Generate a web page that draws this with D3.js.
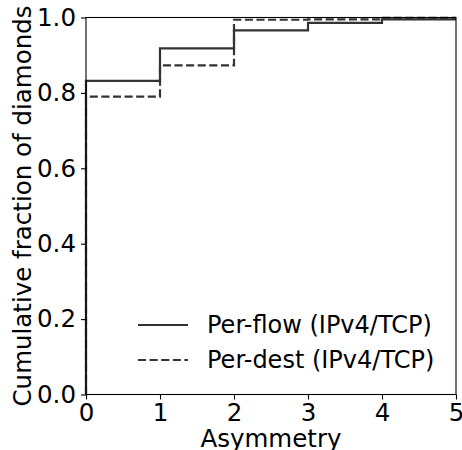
<!DOCTYPE html>
<html>
<head>
<meta charset="utf-8">
<script src="https://cdn.jsdelivr.net/npm/d3@7"></script>
<style>
  body { margin: 0; background: #fff; }
  svg { display: block; }
  text { font-family: "DejaVu Sans", sans-serif; fill: #000; }
</style>
</head>
<body>
<svg id="chart" width="462" height="450"></svg>
<script>
// Data (step "post": value holds from x until next x)
const asymmetry = [0, 0, 1, 2, 3, 4, 5];
const perFlow = [0, 0.832, 0.918, 0.966, 0.986, 0.995, 0.995];
const perDest = [0, 0.790, 0.873, 0.994, 0.995, 0.999, 0.999];
const seriesNames = ["Per-flow (IPv4/TCP)", "Per-dest (IPv4/TCP)"];
const xTicks = [0, 1, 2, 3, 4, 5];
const yTicks = [0.0, 0.2, 0.4, 0.6, 0.8, 1.0];

const svg = d3.select("#chart");
const m = { left: 86, right: 456, top: 17.5, bottom: 394.5 };
const x = d3.scaleLinear().domain([0, 5]).range([m.left, m.right]);
const y = d3.scaleLinear().domain([0, 1]).range([m.bottom, m.top]);
const fs = 24.5;
const legFs = 24;
const lineColor = "#333333";

const line = d3.line().x((d, i) => x(asymmetry[i])).y(d => y(d)).curve(d3.curveStepAfter);

const series = [
  { name: seriesNames[0], values: perFlow, dash: null },
  { name: seriesNames[1], values: perDest, dash: "8.1,3.5" }
];

series.forEach(s => {
  svg.append("path")
    .attr("d", line(s.values))
    .attr("fill", "none")
    .attr("stroke", lineColor)
    .attr("stroke-width", 2.2)
    .attr("stroke-dasharray", s.dash);
});

// spines
svg.append("rect")
  .attr("x", m.left).attr("y", m.top)
  .attr("width", m.right - m.left).attr("height", m.bottom - m.top)
  .attr("fill", "none").attr("stroke", "#000").attr("stroke-width", 1.1);

// axes
const xAxis = d3.axisBottom(x).tickValues(xTicks).tickFormat(d3.format("d")).tickSize(5).tickPadding(4);
const gx = svg.append("g").attr("transform", `translate(0,${m.bottom})`).call(xAxis);
gx.select(".domain").remove();
gx.selectAll("line").attr("stroke", "#000").attr("stroke-width", 1.1);
gx.selectAll("text").attr("font-size", fs).attr("font-family", "DejaVu Sans");

const yAxis = d3.axisLeft(y).tickValues(yTicks).tickFormat(d3.format(".1f")).tickSize(5).tickPadding(5);
const gy = svg.append("g").attr("transform", `translate(${m.left},0)`).call(yAxis);
gy.select(".domain").remove();
gy.selectAll("line").attr("stroke", "#000").attr("stroke-width", 1.1);
gy.selectAll("text").attr("font-size", fs).attr("font-family", "DejaVu Sans");

// axis labels
svg.append("text")
  .attr("x", (m.left + m.right) / 2).attr("y", 447)
  .attr("text-anchor", "middle").attr("font-size", fs)
  .text("Asymmetry");

svg.append("text")
  .attr("transform", `translate(31,${(m.top + m.bottom) / 2}) rotate(-90)`)
  .attr("text-anchor", "middle").attr("font-size", fs)
  .text("Cumulative fraction of diamonds");

// legend
const leg = svg.append("g");
series.forEach((s, i) => {
  const ly = 325 + i * 35;
  leg.append("line")
    .attr("x1", 138).attr("x2", 188).attr("y1", ly).attr("y2", ly)
    .attr("stroke", lineColor).attr("stroke-width", 2.2)
    .attr("stroke-dasharray", s.dash);
  leg.append("text")
    .attr("x", 207).attr("y", ly).attr("dy", "0.35em")
    .attr("font-size", legFs)
    .text(s.name);
});
</script>
</body>
</html>
